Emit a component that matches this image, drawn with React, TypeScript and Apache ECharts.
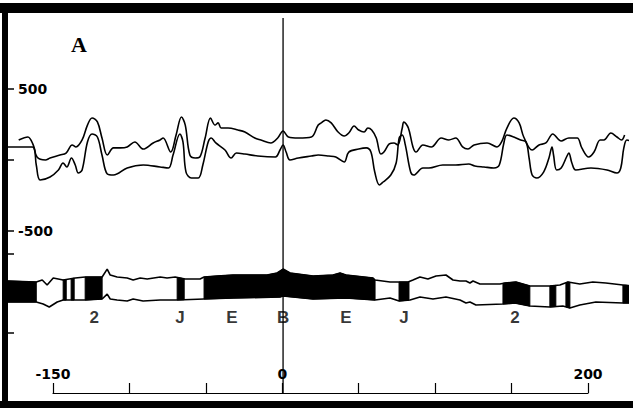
import React, { useEffect, useRef } from 'react';
import * as echarts from 'echarts';

// Upper trace of the top pair (x in position units, y in signal units)
const topUpper: [number, number][] = [
  [-173, 141], [-167, 162], [-163.5, 106], [-161, 21], [-155.5, 0], [-152.5, 14], [-146, 35], [-142, 49],
  [-138, 106], [-135.5, 92], [-131.5, 141], [-128, 246], [-125, 296], [-121.5, 268], [-118.5, 155], [-115, 35],
  [-111, 85], [-106.5, 85], [-102, 92], [-97, 127], [-91.5, 77], [-85, 120], [-80.5, 141], [-78.5, 155],
  [-73.5, 56], [-70, 176], [-66.5, 303], [-64, 246], [-61, 35], [-57.5, 14], [-54.5, 21], [-51, 155],
  [-47.5, 296], [-44.5, 246], [-42.5, 261], [-40.5, 225], [-36, 225], [-29.5, 211], [-25, 197], [-18.5, 155],
  [-14.5, 141], [-8, 120], [-3.5, 155], [0, 204], [3.5, 162], [10, 155], [18.5, 162], [23, 246], [25, 261],
  [28, 282], [31.5, 261], [36, 197], [40, 169], [43, 190], [46.5, 239], [49.5, 211], [53, 197], [55.5, 225],
  [58, 211], [61, 155], [64, 42], [66, 56], [69.5, 113], [72.5, 120], [75, 106], [78, 225], [79, 268],
  [82, 225], [85, 92], [87, 56], [91.5, 106], [97, 92], [103.5, 155], [108.5, 141], [113, 155], [117.5, 92],
  [121, 77], [125, 106], [133.5, 120], [140, 92], [143, 127], [146.5, 225], [151, 296], [154.5, 261],
  [157.5, 162], [163, 70], [167.5, 106], [172, 120], [176.5, 183], [182, 134], [187, 155], [192.5, 155],
  [195.5, 85], [200, 21], [203.5, 56], [207.5, 141], [210, 141], [214.5, 190], [218.5, 162], [221.5, 141],
  [223.5, 176],
];

// Lower trace of the top pair
const topLower: [number, number][] = [
  [-180, 92], [-164, 92], [-161.5, -35], [-159, -141], [-152.5, -120], [-147, -70], [-144, -21], [-141.5, -49],
  [-138.5, 14], [-136, -35], [-134, -92], [-131.5, -70], [-128, 127], [-125, 183], [-121.5, 162], [-118.5, 35],
  [-115, -99], [-111, -106], [-102, -56], [-91.5, -35], [-80.5, -49], [-75, -56], [-72, 35], [-67.5, 183],
  [-65.5, 127], [-63.5, -85], [-60, -127], [-55.5, -127], [-52.5, -35], [-49, 127], [-47, 155], [-44, 120],
  [-38, 70], [-34, 14], [-30.5, 49], [-25, 42], [-16.5, 28], [-5, 21], [-2, 70], [0, 106], [2, 56], [4.5, 0],
  [10, 14], [18.5, 28], [23, 35], [30, 28], [34.5, 21], [40, -14], [43, 56], [49.5, 77], [54.5, 85],
  [57.5, 56], [60, -85], [63, -176], [65.5, -155], [70.5, -106], [74, -21], [76, 155], [78, 176], [80, 106],
  [83.5, -85], [85.5, -106], [91.5, -56], [95.5, -56], [104.5, -35], [113, -35], [121.5, -28], [125.5, -42],
  [131.5, -49], [138, -56], [141.5, -35], [144.5, 120], [146.5, 176], [151, 162], [155.5, 141], [159, 127],
  [161, 14], [163, -106], [166, -127], [170.5, -85], [174, 14], [176, 92], [177, 35], [179, -70], [182, -56],
  [185.5, 21], [187, 49], [189, -21], [191.5, -70], [201.5, -56], [212, -70], [218.5, -92], [221, -56],
  [223, 85], [225, 141], [229, 127],
];

// Band outlines
const bandUpper: [number, number][] = [
  [-180, -852], [-161.5, -859], [-157.6, -845], [-154.4, -880], [-150.4, -831], [-143.9, -845], [-136, -831],
  [-129.5, -824], [-118.4, -824], [-115.1, -768], [-113.1, -810], [-108.6, -824], [-102, -831], [-98.1, -845],
  [-93.5, -831], [-88.9, -838], [-80.4, -824], [-75.9, -831], [-70.6, -824], [-64.1, -838], [-54.3, -838],
  [-51.7, -824], [-43.2, -817], [-32.7, -810], [-10.5, -810], [-3.9, -796], [0, -768], [4.6, -796],
  [19.6, -817], [32.7, -810], [37.3, -796], [41.2, -810], [58.9, -831], [60.2, -845], [70, -859], [76.5, -859],
  [81.8, -859], [85, -845], [89.6, -824], [94.8, -838], [100.1, -817], [106.6, -810], [111.2, -845],
  [115.8, -852], [119.7, -852], [122.3, -866], [124.3, -852], [128.8, -873], [141.9, -873], [145.2, -866],
  [152.4, -859], [161.5, -887], [174.6, -887], [181.2, -880], [186.4, -859], [194.2, -873], [202.7, -859],
  [211.2, -866], [222.4, -880], [229, -887],
];

const bandLower: [number, number][] = [
  [-180, -1000], [-161.5, -1000], [-157, -1014], [-153, -1035], [-147.8, -1000], [-143.9, -986], [-129.5, -986],
  [-118.4, -979], [-115.1, -944], [-113.1, -979], [-108.6, -986], [-102, -993], [-98.1, -979], [-91.6, -993],
  [-80.4, -986], [-69.3, -986], [-51.7, -979], [-32.7, -972], [-2, -965], [0, -958], [6.5, -965],
  [19.6, -979], [41.2, -972], [60.2, -986], [70, -972], [75.9, -993], [83.1, -986], [89.6, -965], [98.1, -979],
  [106.6, -965], [115.8, -986], [119.7, -1007], [122.3, -1000], [126.2, -1021], [143.9, -1014], [151.7, -1007],
  [161.5, -1028], [174.6, -1035], [183.1, -1028], [187.7, -1042], [194.2, -1021], [204.7, -1000],
  [222.4, -1007], [229, -1007],
];

// Filled (black) stretches of the band: [start, end]
const blackSegments: [number, number][] = [
  [-180, -161.5], [-143.9, -141.9], [-138.7, -136.7], [-129.5, -118.4], [-69.3, -64.7], [-51.7, 60.2],
  [75.9, 82.4], [143.9, 161.5], [174.6, 178.5], [185.1, 187.7], [222.4, 229],
];

const bandLetters = ['2', 'J', 'E', 'B', 'E', 'J', '2'];
const letterX = [-123.6, -67.4, -33.4, 0, 41.2, 79.1, 151.7];
const letterY = -1106;

const refLine: [number, number][] = [[0, 1000], [0, -1641]];

const yTickValues = [500, 0, -500, -662, -1218];
const yLabelValues = [500, -500];
const xTickLabels = [-150, 0, 200];

function interp(arr: [number, number][], x: number): number {
  if (x <= arr[0][0]) return arr[0][1];
  for (let i = 0; i < arr.length - 1; i++) {
    const [x0, y0] = arr[i];
    const [x1, y1] = arr[i + 1];
    if (x >= x0 && x <= x1) {
      return x1 === x0 ? y0 : y0 + ((y1 - y0) * (x - x0)) / (x1 - x0);
    }
  }
  return arr[arr.length - 1][1];
}

function segmentPoly(x0: number, x1: number): [number, number][] {
  const up: [number, number][] = [[x0, interp(bandUpper, x0)]];
  bandUpper.forEach((p) => { if (p[0] > x0 && p[0] < x1) up.push(p); });
  up.push([x1, interp(bandUpper, x1)]);
  const lo: [number, number][] = [[x0, interp(bandLower, x0)]];
  bandLower.forEach((p) => { if (p[0] > x0 && p[0] < x1) lo.push(p); });
  lo.push([x1, interp(bandLower, x1)]);
  return [...up, ...lo.reverse()];
}

const FONT = 'DejaVu Sans';

export default function App() {
  const ref = useRef<HTMLDivElement>(null);
  useEffect(() => {
    document.body.style.margin = '0';
    if (!ref.current) return;
    const chart = echarts.init(ref.current, null, { renderer: 'svg' });
    const mkLine = (data: [number, number][], smooth: number | boolean) => ({
      type: 'line', data, showSymbol: false, symbol: 'none', smooth, silent: true,
      lineStyle: { color: '#000', width: 1.6 },
    });
    chart.setOption({
      animation: false,
      backgroundColor: '#fff',
      title: {
        text: 'A',
        left: 71,
        top: 33,
        padding: 0,
        textStyle: { fontFamily: 'Liberation Serif', fontWeight: 'bold', fontSize: 22, color: '#000' },
      },
      grid: [
        { left: 8, right: 0, top: 13, bottom: 7 },
        { left: 53, right: 45, top: 360, height: 33 },
      ],
      xAxis: [
        { type: 'value', gridIndex: 0, min: -180, max: 229, show: false },
        {
          type: 'value', gridIndex: 1, min: -150, max: 200, interval: 50,
          axisLine: { show: true, onZero: false, lineStyle: { color: '#000', width: 1.2 } },
          axisTick: { show: true, inside: true, length: 10, lineStyle: { color: '#000', width: 1.2 } },
          axisLabel: {
            inside: true, margin: 12, color: '#000', fontFamily: FONT, fontSize: 14, fontWeight: 'bold',
            formatter: (v: number) => (xTickLabels.includes(v) ? String(v) : ''),
          },
          splitLine: { show: false },
        },
      ],
      yAxis: [
        {
          type: 'value', gridIndex: 0, min: -1697, max: 1035,
          axisLine: { show: false, onZero: false },
          axisTick: { show: true, inside: true, length: 6, customValues: yTickValues, lineStyle: { color: '#000', width: 1.5 } },
          axisLabel: { show: true, inside: true, margin: 10, customValues: yLabelValues, color: '#000', fontFamily: FONT, fontSize: 14, fontWeight: 'bold' },
          splitLine: { show: false },
        },
        { type: 'value', gridIndex: 1, show: false },
      ],
      graphic: [
        { type: 'rect', shape: { x: 629, y: 13, width: 4, height: 388 }, style: { fill: '#fff' }, z: 99 },
        { type: 'rect', shape: { x: 0, y: 3, width: 633, height: 10 }, style: { fill: '#000' }, z: 100 },
        { type: 'rect', shape: { x: 2, y: 3, width: 6, height: 405 }, style: { fill: '#000' }, z: 100 },
        { type: 'rect', shape: { x: 0, y: 401, width: 633, height: 7 }, style: { fill: '#000' }, z: 100 },
      ],
      series: [
        mkLine(topUpper, 0.35),
        mkLine(topLower, 0.35),
        mkLine(bandUpper, false),
        mkLine(bandLower, false),
        {
          type: 'custom', data: blackSegments, encode: { x: [0, 1] }, clip: true, silent: true,
          renderItem: (params: any, api: any) => ({
            type: 'polygon',
            shape: { points: segmentPoly(api.value(0), api.value(1)).map((p) => api.coord(p)) },
            style: { fill: '#000', stroke: '#000', lineWidth: 1 },
          }),
        },
        {
          type: 'line', data: refLine, showSymbol: false, symbol: 'none', silent: true,
          lineStyle: { color: '#000', width: 1.3 },
        },
        {
          type: 'scatter', symbolSize: 0, silent: true,
          data: letterX.map((x) => [x, letterY]),
          label: {
            show: true, position: 'inside', color: '#000', fontFamily: 'Liberation Sans', fontWeight: 'bold', fontSize: 17,
            formatter: (p: any) => bandLetters[p.dataIndex],
          },
        },
      ],
    });
    return () => chart.dispose();
  }, []);
  return <div ref={ref} style={{ width: 633, height: 408, position: 'fixed', left: 0, top: 0 }} />;
}
